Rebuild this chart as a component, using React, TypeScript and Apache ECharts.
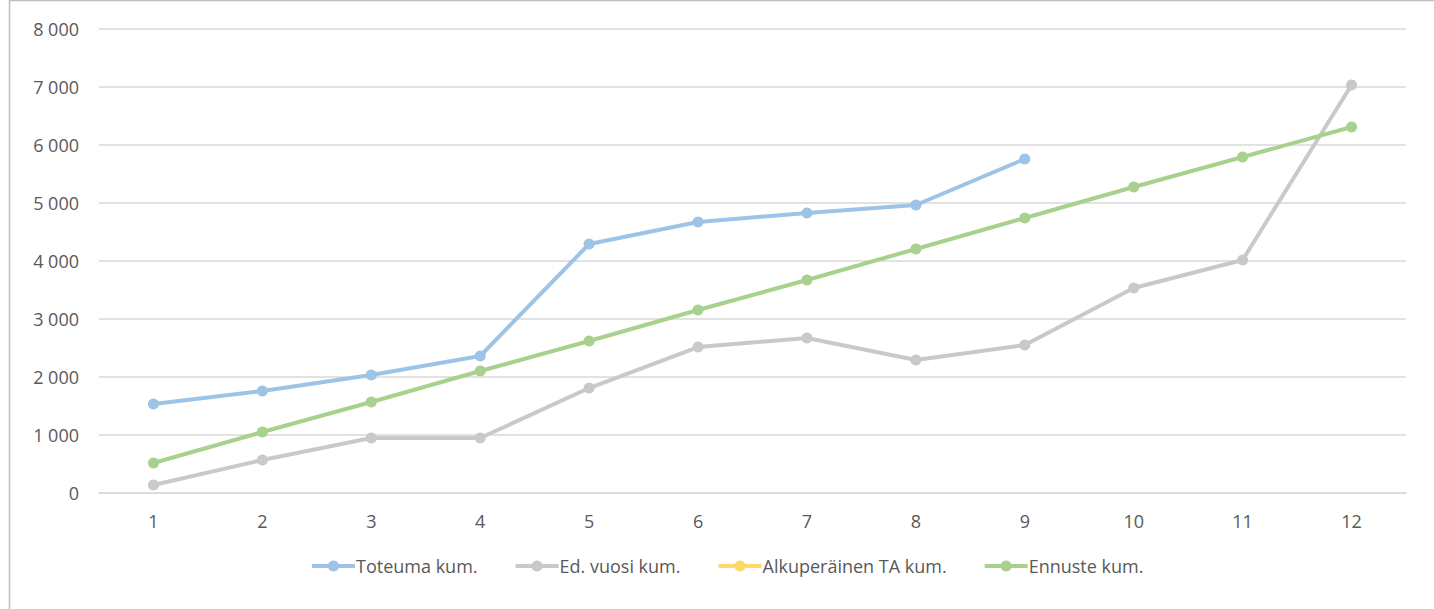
import React, { useEffect, useRef } from "react";
import * as echarts from "echarts";

const categories = ["1", "2", "3", "4", "5", "6", "7", "8", "9", "10", "11", "12"];
const toteuma = [1534, 1759, 2034, 2362, 4293, 4672, 4828, 4966, 5759, null, null, null];
const edVuosi = [138, 569, 948, 948, 1810, 2517, 2672, 2293, 2552, 3534, 4017, 7034];
const alkuperainen: (number | null)[] = [null, null, null, null, null, null, null, null, null, null, null, null];
const ennuste = [517, 1052, 1569, 2103, 2621, 3155, 3672, 4207, 4741, 5276, 5793, 6310];
const seriesNames = ["Toteuma kum.", "Ed. vuosi kum.", "Alkuperäinen TA kum.", "Ennuste kum."];
const colors = ["#9DC3E6", "#C9C9C9", "#FFD966", "#A9D18E"];

const FONT = "'Open Sans', 'Noto Sans', sans-serif";

export default function App() {
  const ref = useRef<HTMLDivElement>(null);
  useEffect(() => {
    if (!ref.current) return;
    const chart = echarts.init(ref.current, null, { renderer: "svg" });
    const mk = (name: string, data: any[], color: string) => ({
      name,
      type: "line",
      data,
      symbol: "circle",
      symbolSize: 11,
      showSymbol: true,
      itemStyle: { color },
      lineStyle: { color, width: 4 },
      connectNulls: false,
    });
    chart.setOption({
      animation: false,
      textStyle: { fontFamily: FONT },
      grid: { left: 99, right: 28, top: 29, bottom: 116, containLabel: false },
      graphic: [
        {
          type: "rect",
          shape: { x: 9.5, y: 0.5, width: 1500, height: 700 },
          style: { fill: "none", stroke: "#BFBFBF", lineWidth: 1.5 },
          silent: true,
        },
      ],
      legend: {
        top: 552,
        left: 305,
        itemWidth: 43,
        itemHeight: 14,
        itemGap: 36,
        lineStyle: { width: 4 },
        textStyle: { color: "#595959", fontSize: 18, fontFamily: FONT, padding: [0, 0, 0, -4] },
        data: seriesNames,
      },
      xAxis: {
        type: "category",
        data: categories,
        boundaryGap: true,
        axisLine: { lineStyle: { color: "#D9D9D9", width: 1.5 } },
        axisTick: { show: false },
        axisLabel: { color: "#595959", fontSize: 18, margin: 19, fontFamily: FONT },
      },
      yAxis: {
        type: "value",
        min: 0,
        max: 8000,
        interval: 1000,
        axisLine: { show: false },
        axisTick: { show: false },
        splitLine: { lineStyle: { color: "#D9D9D9", width: 1.5 } },
        axisLabel: {
          color: "#595959",
          fontSize: 18,
          margin: 20,
          fontFamily: FONT,
          formatter: (v: number) => String(v).replace(/\B(?=(\d{3})+(?!\d))/g, " "),
        },
      },
      series: [
        mk(seriesNames[0], toteuma, colors[0]),
        mk(seriesNames[1], edVuosi, colors[1]),
        mk(seriesNames[2], alkuperainen, colors[2]),
        mk(seriesNames[3], ennuste, colors[3]),
      ],
    });
    return () => chart.dispose();
  }, []);
  return (
    <div
      ref={ref}
      style={{ position: "fixed", left: 0, top: 0, width: 1434, height: 609, background: "#fff" }}
    />
  );
}
